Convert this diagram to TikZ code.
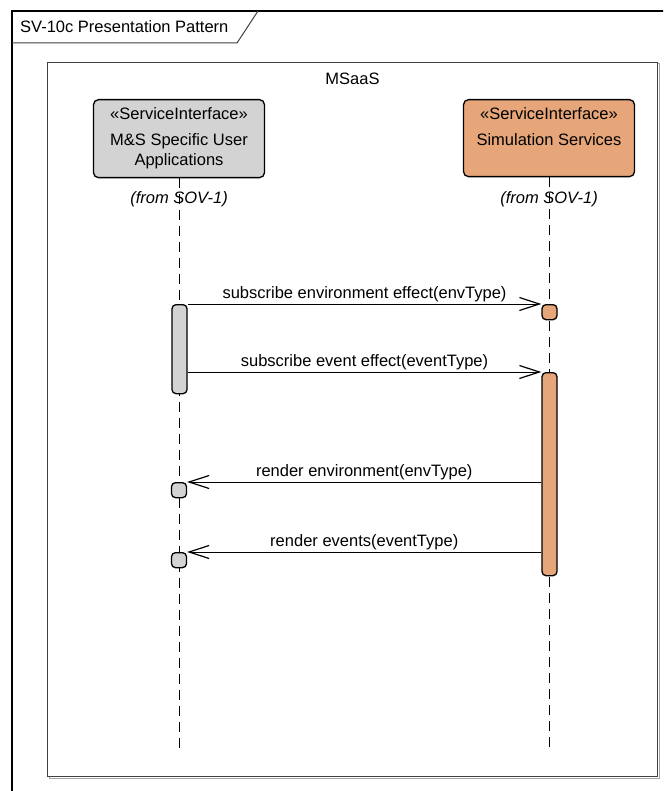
\documentclass[tikz,border=0pt]{standalone}
\usepackage{fontspec}
\setmainfont{Liberation Sans}
\usepackage{xcolor}
\usetikzlibrary{shapes,arrows,arrows.meta,positioning,fit,backgrounds,calc}

\definecolor{uagray}{RGB}{211,211,211}
\definecolor{simorange}{RGB}{230,166,122}
\definecolor{edgegray}{RGB}{64,64,64}
\newcommand{\lblfont}{\fontsize{16.5}{19}\selectfont}

\begin{document}
\begin{tikzpicture}[x=1pt,y=-1pt,
  lifehead/.style={draw=black, line width=1.3pt, rounded corners=5pt, inner sep=0pt, anchor=north, minimum width=171pt},
  activation/.style={draw=black, line width=1.3pt, rounded corners=4pt, inner sep=0pt, minimum width=15pt, anchor=north},
  lifeline/.style={line width=1pt, dash pattern=on 10pt off 6pt},
  msg/.style={line width=1pt, -{Straight Barb[length=20pt,width=13pt,line width=1.2pt]}},
  lbl/.style={font=\lblfont, inner sep=0pt},
  msglbl/.style={lbl, anchor=base, yshift=5.5pt}]

\useasboundingbox (0,0) rectangle (663,791);
\fill[white] (0,0) rectangle (663,791);

% diagram frame (runs off the page)
\begin{scope}
\clip (0,0) rectangle (663,791);
\draw[line width=2.5pt] (12,820) -- (12,11) -- (700,11);
\end{scope}
\draw[edgegray, line width=1pt] (12,43) -- (237,43) -- (258,11);
\node[lbl, anchor=base west] (title) at (20,32.5) {SV-10c Presentation Pattern};

% MSaaS boundary
\draw[gray!70, line width=1pt] (49,64) rectangle (659,778);
\node[draw=edgegray, line width=1pt, fill=white, inner sep=0pt, anchor=north west,
      minimum width=610pt, minimum height=714pt] (msaas) at (47,62) {};
\node[lbl, anchor=base] (msaasLbl) at ($(msaas.north)+(0,23)$) {MSaaS};

% lifeline heads
\node[lifehead, fill=uagray, minimum height=78pt] (uaHead) at (179,99) {};
\node[lbl, anchor=base] (uaStereo) at ($(uaHead.north)+(0,21)$) {«ServiceInterface»};
\node[lbl, anchor=base] (uaName) at ($(uaHead.north)+(0,47)$) {M\&S Specific User};
\node[lbl, anchor=base] (uaName2) at ($(uaHead.north)+(0,67)$) {Applications};

\node[lifehead, fill=simorange, minimum height=77pt] (ssHead) at (549,99) {};
\node[lbl, anchor=base] (ssStereo) at ($(ssHead.north)+(0,21)$) {«ServiceInterface»};
\node[lbl, anchor=base] (ssName) at ($(ssHead.north)+(0,47)$) {Simulation Services};

\node[lbl, anchor=base, font=\lblfont\itshape] (uaFrom) at ($(uaHead.south)+(0,25)$) {(from SOV-1)};
\node[lbl, anchor=base, font=\lblfont\itshape] (ssFrom) at ($(ssHead.south)+(0,26)$) {(from SOV-1)};

% lifelines
\coordinate (uaEnd) at (179,749);
\coordinate (ssEnd) at (549,749);
\draw[lifeline] (uaHead.south) -- (uaEnd);
\draw[lifeline] (ssHead.south) -- (ssEnd);

% activations
\node[activation, fill=uagray, minimum height=89pt] (uaAct) at (179.5,304) {};
\node[activation, fill=simorange, minimum height=15pt] (ssAct1) at (549.5,304) {};
\node[activation, fill=simorange, minimum height=203pt] (ssAct2) at (549.5,372) {};
\node[activation, fill=uagray, minimum height=15pt] (uaRet1) at (179,482) {};
\node[activation, fill=uagray, minimum height=15pt] (uaRet2) at (179,552) {};

% messages
\draw[msg] (uaAct.north east) -- (ssAct1.north west)
  node[msglbl, pos=0.5] {subscribe environment effect(envType)};
\draw[msg] (uaAct.east |- ssAct2.north) -- (ssAct2.north west)
  node[msglbl, pos=0.5] {subscribe event effect(eventType)};
\draw[msg] (ssAct2.west |- uaRet1.north) -- (uaRet1.north east)
  node[msglbl, pos=0.5] {render environment(envType)};
\draw[msg] (ssAct2.west |- uaRet2.north) -- (uaRet2.north east)
  node[msglbl, pos=0.5] {render events(eventType)};

\end{tikzpicture}
\end{document}
